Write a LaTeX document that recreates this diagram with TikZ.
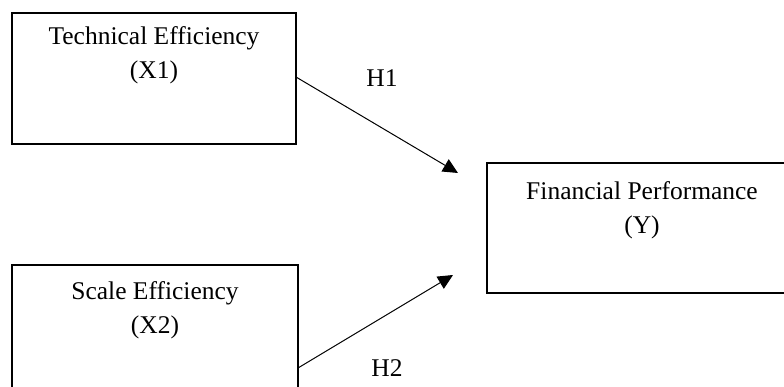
\documentclass[tikz,border=0pt]{standalone}
\usepackage{fontspec}
\setmainfont{Liberation Serif}
\usetikzlibrary{arrows.meta}
\begin{document}
\begin{tikzpicture}[x=1pt,y=-1pt,
  boxnode/.style={draw, line width=1.5pt, rectangle, inner sep=0pt},
  txt/.style={align=center, font=\fontsize{25.5}{34}\selectfont, inner sep=0pt},
  lbl/.style={font=\fontsize{25.5}{30}\selectfont, inner sep=0pt},
  arr/.style={line width=1pt, -{Triangle[length=15pt,width=14pt]}}]
\useasboundingbox (0,0) rectangle (784,387);
\clip (0,0) rectangle (784,387);
\node[boxnode, minimum width=284pt, minimum height=131pt] (x1) at (154,78.5) {};
\node[boxnode, minimum width=310pt, minimum height=130pt] (y) at (642,228) {};
\node[boxnode, minimum width=286pt, minimum height=131pt] (x2) at (155,330.5) {};
\node[txt] (x1t) at (154,55) {Technical Efficiency\\(X1)};
\node[txt] (yt) at (642,210) {Financial Performance\\(Y)};
\node[txt] (x2t) at (155,310) {Scale Efficiency\\(X2)};
\coordinate (s1) at (296,77);
\coordinate (t1) at (458,173);
\coordinate (s2) at (298,368);
\coordinate (t2) at (453,275);
\draw[arr] (s1) -- (t1);
\draw[arr] (s2) -- (t2);
\node[lbl] (h1) at (382,78) {H1};
\node[lbl] (h2) at (387,368) {H2};
\end{tikzpicture}
\end{document}
